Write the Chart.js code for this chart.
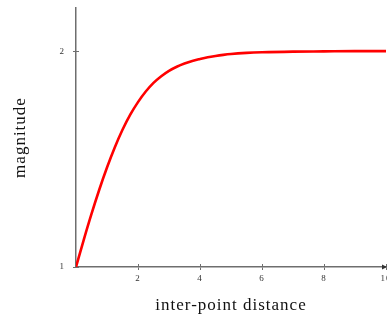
<!DOCTYPE html>
<html>
<head>
<meta charset="utf-8">
<script src="https://cdn.jsdelivr.net/npm/chart.js@4"></script>
<style>
html,body{margin:0;padding:0;overflow:hidden;background:#fff;width:387px;height:316px;}
canvas{display:block;}
</style>
</head>
<body>
<canvas id="c" width="400" height="316"></canvas>
<script>
const distance = [0, 0.25, 0.5, 0.75, 1, 1.25, 1.5, 1.75, 2, 2.25, 2.5, 2.75, 3, 3.25, 3.5, 3.75, 4, 4.25, 4.5, 4.75, 5, 5.5, 6, 7, 8, 9, 10];
const magnitude = [1.000, 1.126, 1.246, 1.358, 1.461, 1.554, 1.636, 1.706, 1.764, 1.813, 1.853, 1.884, 1.909, 1.928, 1.943, 1.955, 1.964, 1.972, 1.978, 1.983, 1.987, 1.992, 1.995, 1.998, 1.999, 2.000, 2.000];
const xTicks = [2, 4, 6, 8, 10];
const yTicks = [1, 2];
const xTitle = 'inter-point distance';
const yTitle = 'magnitude';

const axisColor = '#6e6e6e';
const serif = "'Liberation Serif', 'DejaVu Serif', serif";

const spacing = {
  id: 'spacing',
  beforeDraw(chart) { chart.ctx.letterSpacing = '1px'; }
};

const innerTicks = {
  id: 'innerTicks',
  afterDraw(chart) {
    const ctx = chart.ctx, xs = chart.scales.x, ys = chart.scales.y;
    ctx.save();
    ctx.strokeStyle = axisColor;
    ctx.lineWidth = 1;
    xTicks.forEach(v => {
      const px = Math.round(xs.getPixelForValue(v)) + 0.5;
      ctx.beginPath(); ctx.moveTo(px, ys.bottom); ctx.lineTo(px, ys.bottom - 3); ctx.stroke();
    });
    yTicks.forEach(v => {
      const py = Math.round(ys.getPixelForValue(v)) + 0.5;
      ctx.beginPath(); ctx.moveTo(xs.left, py); ctx.lineTo(xs.left + 3, py); ctx.stroke();
    });
    const ex = xs.getPixelForValue(10), ey = ys.getPixelForValue(1);
    ctx.fillStyle = '#333';
    ctx.beginPath();
    ctx.moveTo(ex + 1, ey);
    ctx.lineTo(ex - 4, ey - 2.5);
    ctx.lineTo(ex - 4, ey + 2.5);
    ctx.closePath();
    ctx.fill();
    ctx.restore();
  }
};

function zeroPad(s) { s.paddingTop = 0; s.paddingBottom = 0; s.paddingLeft = 0; s.paddingRight = 0; }

new Chart(document.getElementById('c'), {
  type: 'line',
  data: {
    datasets: [{
      data: distance.map((d, i) => ({x: d, y: magnitude[i]})),
      borderColor: '#ff0000',
      borderWidth: 2.6,
      pointRadius: 0,
      fill: false,
      cubicInterpolationMode: 'monotone'
    }]
  },
  options: {
    responsive: false,
    animation: false,
    layout: {padding: {top: 8, right: 14, left: 0, bottom: 0}},
    plugins: {legend: {display: false}, tooltip: {enabled: false}},
    scales: {
      x: {
        type: 'linear', min: 0, max: 10,
        afterBuildTicks: s => { s.ticks = xTicks.map(v => ({value: v})); },
        afterFit: s => { s.height = 49; zeroPad(s); },
        border: {display: true, color: axisColor, width: 1.5},
        grid: {display: true, drawOnChartArea: false, drawTicks: true, tickLength: 3, color: axisColor},
        ticks: {color: '#333', font: {family: serif, size: 9}, padding: 3, maxRotation: 0, autoSkip: false},
        title: {display: true, text: xTitle, color: '#111', font: {family: serif, size: 17}, padding: {top: 0, bottom: 0}}
      },
      y: {
        type: 'linear', min: 1, max: 2.2,
        afterBuildTicks: s => { s.ticks = yTicks.map(v => ({value: v})); },
        afterFit: s => { s.width = 76; zeroPad(s); },
        border: {display: true, color: axisColor, width: 1.5},
        grid: {display: true, drawOnChartArea: false, drawTicks: true, tickLength: 3, color: axisColor},
        ticks: {color: '#333', font: {family: serif, size: 9}, padding: 8},
        title: {display: true, text: yTitle, color: '#111', font: {family: serif, size: 17}, padding: {top: 10, bottom: 0}}
      }
    }
  },
  plugins: [spacing, innerTicks]
});
</script>
</body>
</html>
